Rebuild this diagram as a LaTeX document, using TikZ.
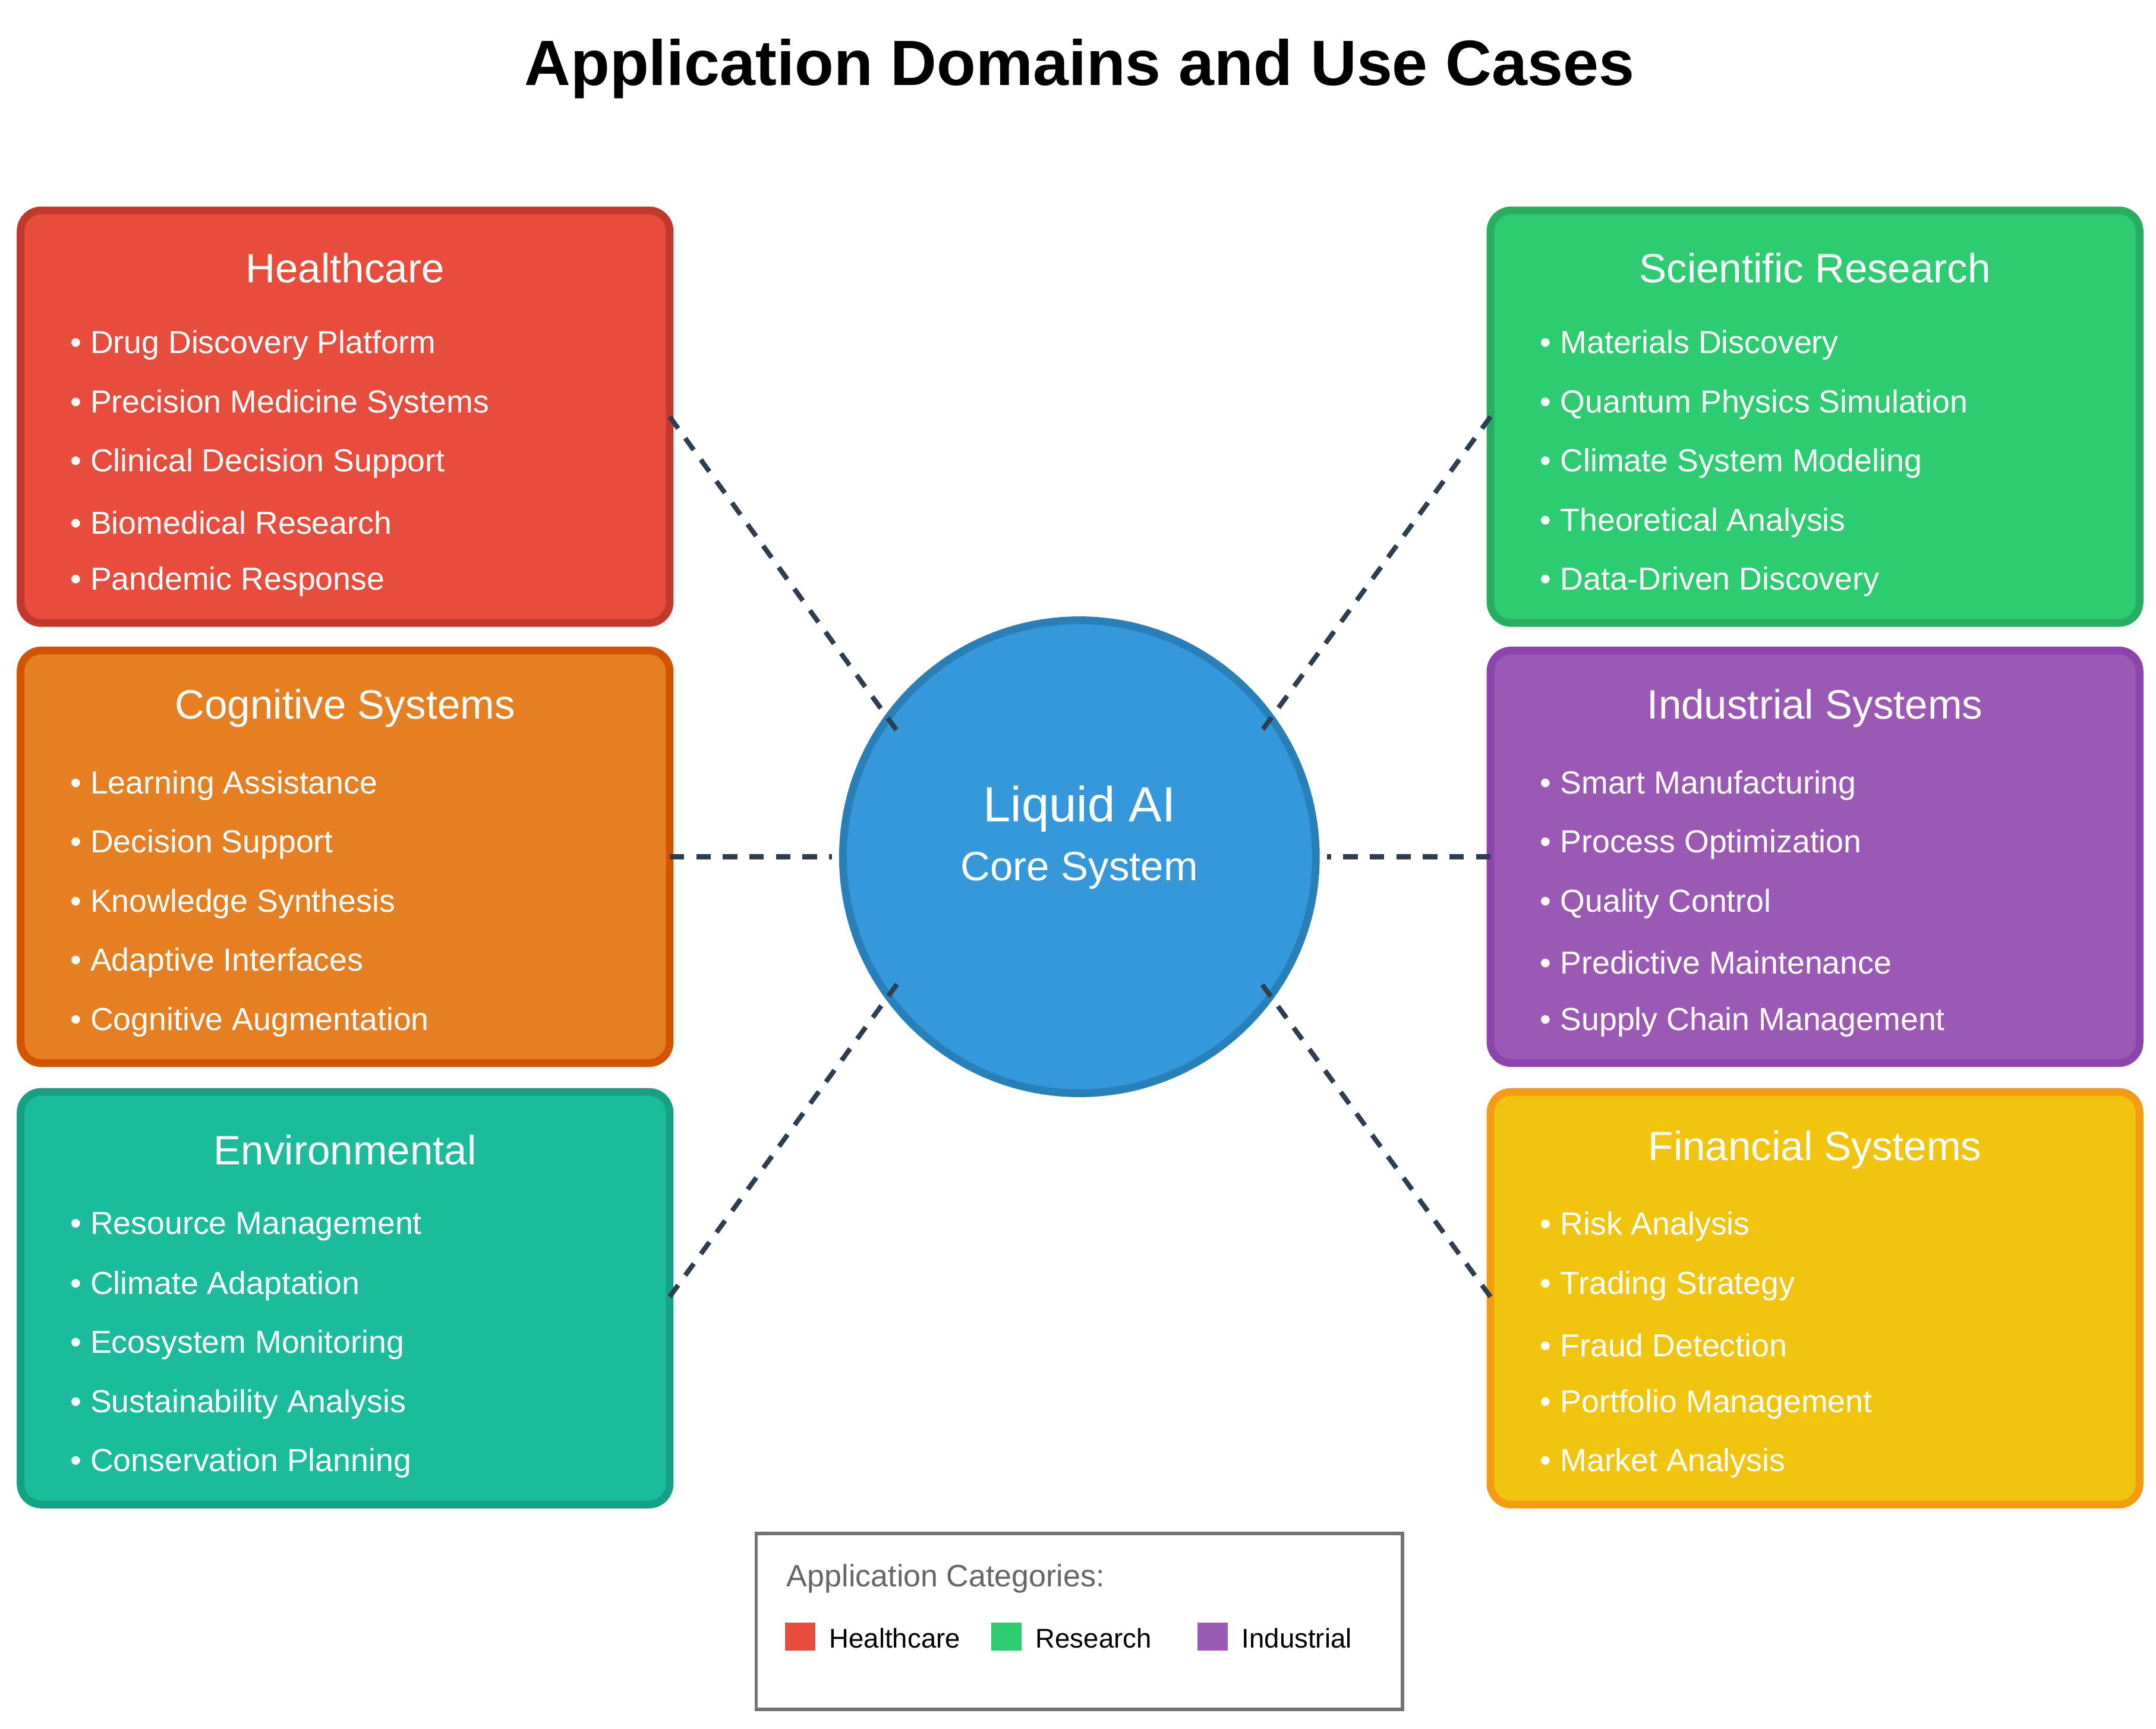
\documentclass[tikz,border=0pt]{standalone}
\usepackage{fontspec}
\setmainfont{Liberation Sans}
\usetikzlibrary{calc}

\definecolor{hcfill}{HTML}{E74C3C}\definecolor{hcline}{HTML}{C0392B}
\definecolor{cgfill}{HTML}{E67E22}\definecolor{cgline}{HTML}{D35400}
\definecolor{enfill}{HTML}{1ABC9C}\definecolor{enline}{HTML}{16A085}
\definecolor{rsfill}{HTML}{2ECC71}\definecolor{rsline}{HTML}{27AE60}
\definecolor{infill}{HTML}{9B59B6}\definecolor{inline}{HTML}{8E44AD}
\definecolor{fnfill}{HTML}{F1C40F}\definecolor{fnline}{HTML}{F39C12}
\definecolor{corefill}{HTML}{3498DB}\definecolor{coreline}{HTML}{2980B9}
\definecolor{linkcol}{HTML}{2C3E50}

\tikzset{
  domain/.style={draw=#1, line width=3.2pt, rounded corners=0.3cm},
  boxtitle/.style={text=white, font=\fontsize{17}{20}\selectfont},
  item/.style={text=white, anchor=west, font=\fontsize{13.2}{16}\selectfont},
  link/.style={draw=linkcol, line width=2pt, dash pattern=on 6pt off 5pt},
}

\begin{document}
\begin{tikzpicture}[x=0.02cm, y=-0.02cm]
    \useasboundingbox (0,0) rectangle (1568,1257);
    \fill[white] (0,0) rectangle (1568,1257);

    \node[font=\fontsize{26.5}{30}\selectfont\bfseries] (title) at (785,50) {Application Domains and Use Cases};

    % domain boxes
    \foreach \nm/\bx/\by/\col/\ttl/\a/\b/\c/\d/\e in {
      hc/15/153/hc/Healthcare/Drug Discovery Platform/Precision Medicine Systems/Clinical Decision Support/Biomedical Research/Pandemic Response,
      cg/15/473/cg/Cognitive Systems/Learning Assistance/Decision Support/Knowledge Synthesis/Adaptive Interfaces/Cognitive Augmentation,
      en/15/794/en/Environmental/Resource Management/Climate Adaptation/Ecosystem Monitoring/Sustainability Analysis/Conservation Planning,
      rs/1084/153/rs/Scientific Research/Materials Discovery/Quantum Physics Simulation/Climate System Modeling/Theoretical Analysis/Data-Driven Discovery,
      in/1084/473/in/Industrial Systems/Smart Manufacturing/Process Optimization/Quality Control/Predictive Maintenance/Supply Chain Management,
      fn/1084/794/fn/Financial Systems/Risk Analysis/Trading Strategy/Fraud Detection/Portfolio Management/Market Analysis}{
      \draw[domain=\col line, fill=\col fill] (\bx,\by) rectangle ++(472,300);
      \coordinate (\nm-w) at (\bx,\by+150);
      \coordinate (\nm-e) at (\bx+472,\by+150);
      \node[boxtitle] (\nm-t) at (\bx+236,\by+42) {\ttl};
      \foreach \txt [count=\i from 0] in {\a,\b,\c,\d,\e}
        \node[item] (\nm-\i) at (\bx+30,\by+98+43*\i) {• \txt};
    }

    % core
    \node[circle, draw=coreline, fill=corefill, line width=3.2pt, minimum size=6.88cm] (core) at (785,623) {};
    \node[text=white, font=\fontsize{20.5}{24}\selectfont] (core-a) at (785,588) {Liquid AI};
    \node[text=white, font=\fontsize{17}{20}\selectfont] (core-b) at (785,633) {Core System};

    % links
    \coordinate (hc-l) at (487,303);  \coordinate (hc-c) at (655,535);
    \coordinate (cg-c) at (605,623);
    \coordinate (en-l) at (487,943);  \coordinate (en-c) at (655,712);
    \coordinate (rs-l) at (1084,303); \coordinate (rs-c) at (915,535);
    \coordinate (in-c) at (965,623);
    \coordinate (fn-l) at (1084,943); \coordinate (fn-c) at (915,712);
    \draw[link] (hc-l) -- (hc-c);
    \draw[link] (cg-e) -- (cg-c);
    \draw[link] (en-l) -- (en-c);
    \draw[link] (rs-l) -- (rs-c);
    \draw[link] (in-w) -- (in-c);
    \draw[link] (fn-l) -- (fn-c);

    % legend
    \draw[draw=gray!90!black, line width=1.3pt, fill=white] (550,1115) rectangle (1020,1243);
    \node[anchor=west, text=gray!80!black, font=\fontsize{12.8}{15}\selectfont] (leg-t) at (566,1148) {Application Categories:};
    \foreach \col/\lx/\lbl in {hc/571/Healthcare, rs/721/Research, in/871/Industrial}{
      \fill[\col fill] (\lx,1180) rectangle ++(22,20);
      \node[anchor=west, font=\fontsize{11.2}{13}\selectfont] (leg-\col) at (\lx+26,1191) {\lbl};
    }
\end{tikzpicture}
\end{document}
